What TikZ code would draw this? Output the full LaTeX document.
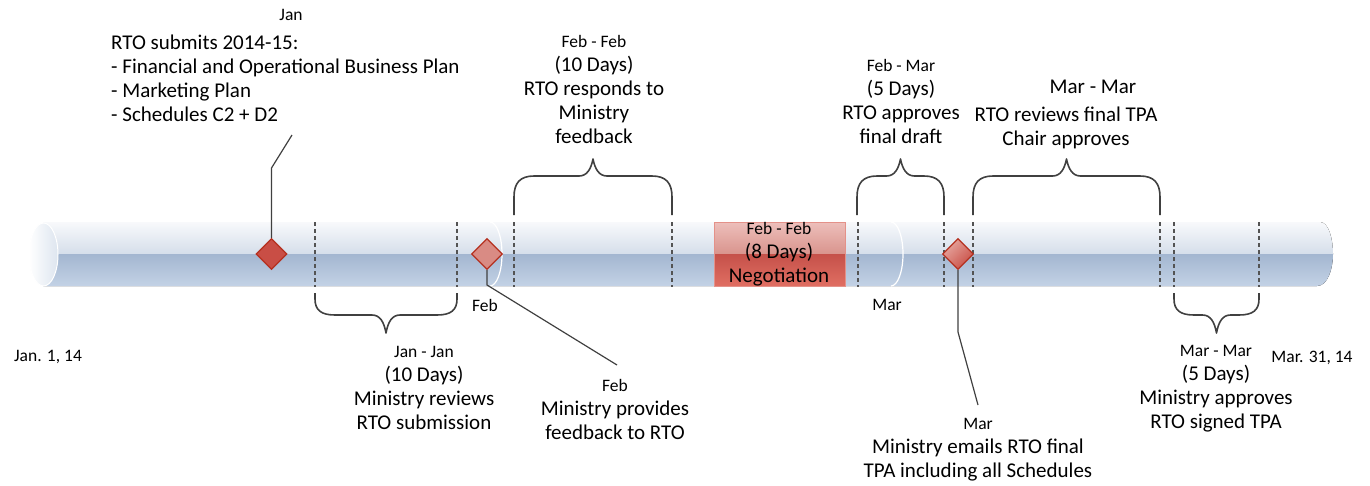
\documentclass[tikz,border=0pt]{standalone}
\usepackage{fontspec}
\setmainfont{Carlito}
\usetikzlibrary{shapes.geometric}
\definecolor{barhi}{HTML}{F9FAFC}
\definecolor{barmid}{HTML}{D5DEEA}
\definecolor{bardk}{HTML}{A3B6D0}
\definecolor{barlo}{HTML}{C4D3E6}
\definecolor{capr}{HTML}{DDE5EF}
\definecolor{negtop}{HTML}{EDBFBB}
\definecolor{negmid}{HTML}{D9948D}
\definecolor{negdk}{HTML}{C5514A}
\definecolor{neglo}{HTML}{E06E62}
\definecolor{negline}{HTML}{E49189}
\definecolor{msred}{HTML}{C94E45}
\definecolor{mspink}{HTML}{D98B84}
\definecolor{mslight}{HTML}{E6A7A0}
\definecolor{msline}{HTML}{B5301F}
\definecolor{lineg}{HTML}{404040}
\newcommand{\smallfnt}{\fontsize{17.5}{24}\selectfont}

\begin{document}
\begin{tikzpicture}[x=1pt, y=-1pt,
  txt/.style={inner sep=0pt, align=center, font=\fontsize{21}{24}\selectfont},
  lbl/.style={inner sep=0pt, font=\fontsize{17.5}{21}\selectfont},
  ms/.style={diamond, aspect=1, inner sep=0pt, minimum size=31pt, draw=msline, line width=1.3pt},
  brace/.style={draw=lineg, line width=1.6pt, line join=round},
  divline/.style={draw=lineg!90, line width=1.1pt, dash pattern=on 4pt off 3pt},
  lead/.style={draw=lineg, line width=1.2pt}]
  \useasboundingbox (0,0) rectangle (1370,485);
  % time bar
  \begin{scope}
    \clip (43,222) -- (1320,222) .. controls (1329,222) and (1333,240) .. (1333,254)
      .. controls (1333,268) and (1328,286) .. (1317,286) -- (43,286) -- cycle;
    \fill[top color=barhi, bottom color=barmid] (30,221) rectangle (1340,254);
    \fill[top color=bardk, bottom color=barlo] (30,254) rectangle (1340,287);
  \end{scope}
  \draw[white, line width=1pt, left color=white, right color=capr] (43.5,254.5) ellipse (14.5 and 31.5);
  \foreach \x in {490,891}
    \draw[white, line width=1.2pt] (\x,222) arc (-90:90:12 and 32);
  % negotiation block
  \fill[top color=negtop, bottom color=negmid] (714,222) rectangle (845,254);
  \fill[top color=negdk, bottom color=neglo] (714,254) rectangle (845,286);
  \draw[negline, line width=1pt] (714,222) rectangle (845,286);
  \node[txt] (negnote) at (779,254.5) {{\smallfnt Feb - Feb}\\(8 Days)\\Negotiation};
  % day markers
  \foreach \x in {315,457,514,672,858,944,973,1160,1174,1259}
    \draw[divline] (\x,222) -- (\x,287);
  % braces
  \foreach \a/\b in {514/672, 857/944, 973/1160} {
    \pgfmathsetmacro{\m}{(\a+\b)/2}
    \draw[brace] (\a,215) -- (\a,197) .. controls (\a,183) and (\a+6,176) .. (\a+20,176)
      -- (\m-14,176) .. controls (\m-6,176) and (\m-2,169) .. (\m,159)
      .. controls (\m+2,169) and (\m+6,176) .. (\m+14,176)
      -- (\b-20,176) .. controls (\b-6,176) and (\b,183) .. (\b,197) -- (\b,215);
  }
  \foreach \a/\b in {315/457, 1174/1259} {
    \pgfmathsetmacro{\m}{(\a+\b)/2}
    \draw[brace] (\a,293) -- (\a,299) .. controls (\a,310) and (\a+6,315) .. (\a+20,315)
      -- (\m-14,315) .. controls (\m-6,315) and (\m-2,322) .. (\m,333)
      .. controls (\m+2,322) and (\m+6,315) .. (\m+14,315)
      -- (\b-20,315) .. controls (\b-6,315) and (\b,310) .. (\b,299) -- (\b,293);
  }
  % milestones
  \node[ms, fill=msred] (msjan) at (271.5,254) {};
  \node[ms, fill=mspink] (msfeb) at (487,254) {};
  \node[ms, top color=mslight, bottom color=msred, shading angle=45] (msmar) at (958,254) {};
  \coordinate (janbend) at (271.5,168);
  \coordinate (janend) at (292,135);
  \coordinate (febbend) at (487,285);
  \coordinate (febend) at (617,365);
  \coordinate (marbend) at (958,332);
  \coordinate (marend) at (978,405);
  \draw[lead] (msjan.north) -- (janbend) -- (janend);
  \draw[lead] (msfeb.south) -- (febbend) -- (febend);
  \draw[lead] (msmar.south) -- (marbend) -- (marend);
  % texts
  \node[lbl] (jantop) at (291,15) {Jan};
  \node[txt, align=left, anchor=west] (jannote) at (111,78) {RTO submits 2014-15:\\- Financial and Operational Business Plan\\- Marketing Plan\\- Schedules C2 + D2};
  \node[txt] (febfebnote) at (594,89.5) {{\smallfnt Feb - Feb}\\(10 Days)\\RTO responds to\\Ministry\\feedback};
  \node[txt] (febmarnote) at (901,101) {{\smallfnt Feb - Mar}\\(5 Days)\\RTO approves\\final draft};
  \node[txt] (marmarhead) at (1093,87) {Mar - Mar};
  \node[txt] (marmarnote) at (1066,128) {RTO reviews final TPA\\Chair approves};
  \node[txt] (janjannote) at (424,388) {{\smallfnt Jan - Jan}\\(10 Days)\\Ministry reviews\\RTO submission};
  \node[txt] (febnote) at (615,409) {{\smallfnt Feb}\\Ministry provides\\feedback to RTO};
  \node[txt] (marnote) at (978,450) {{\smallfnt Mar}\\Ministry emails RTO final\\TPA including all Schedules};
  \node[txt] (marmarlow) at (1216,389) {{\smallfnt Mar - Mar}\\(5 Days)\\Ministry approves\\RTO signed TPA};
  \node[lbl] (feblbl) at (485,305) {Feb};
  \node[lbl] (marlbl) at (887,305) {Mar};
  \node[lbl] (startlbl) at (48,357) {Jan. 1, 14};
  \node[lbl] (endlbl) at (1312,358) {Mar. 31, 14};
\end{tikzpicture}
\end{document}
